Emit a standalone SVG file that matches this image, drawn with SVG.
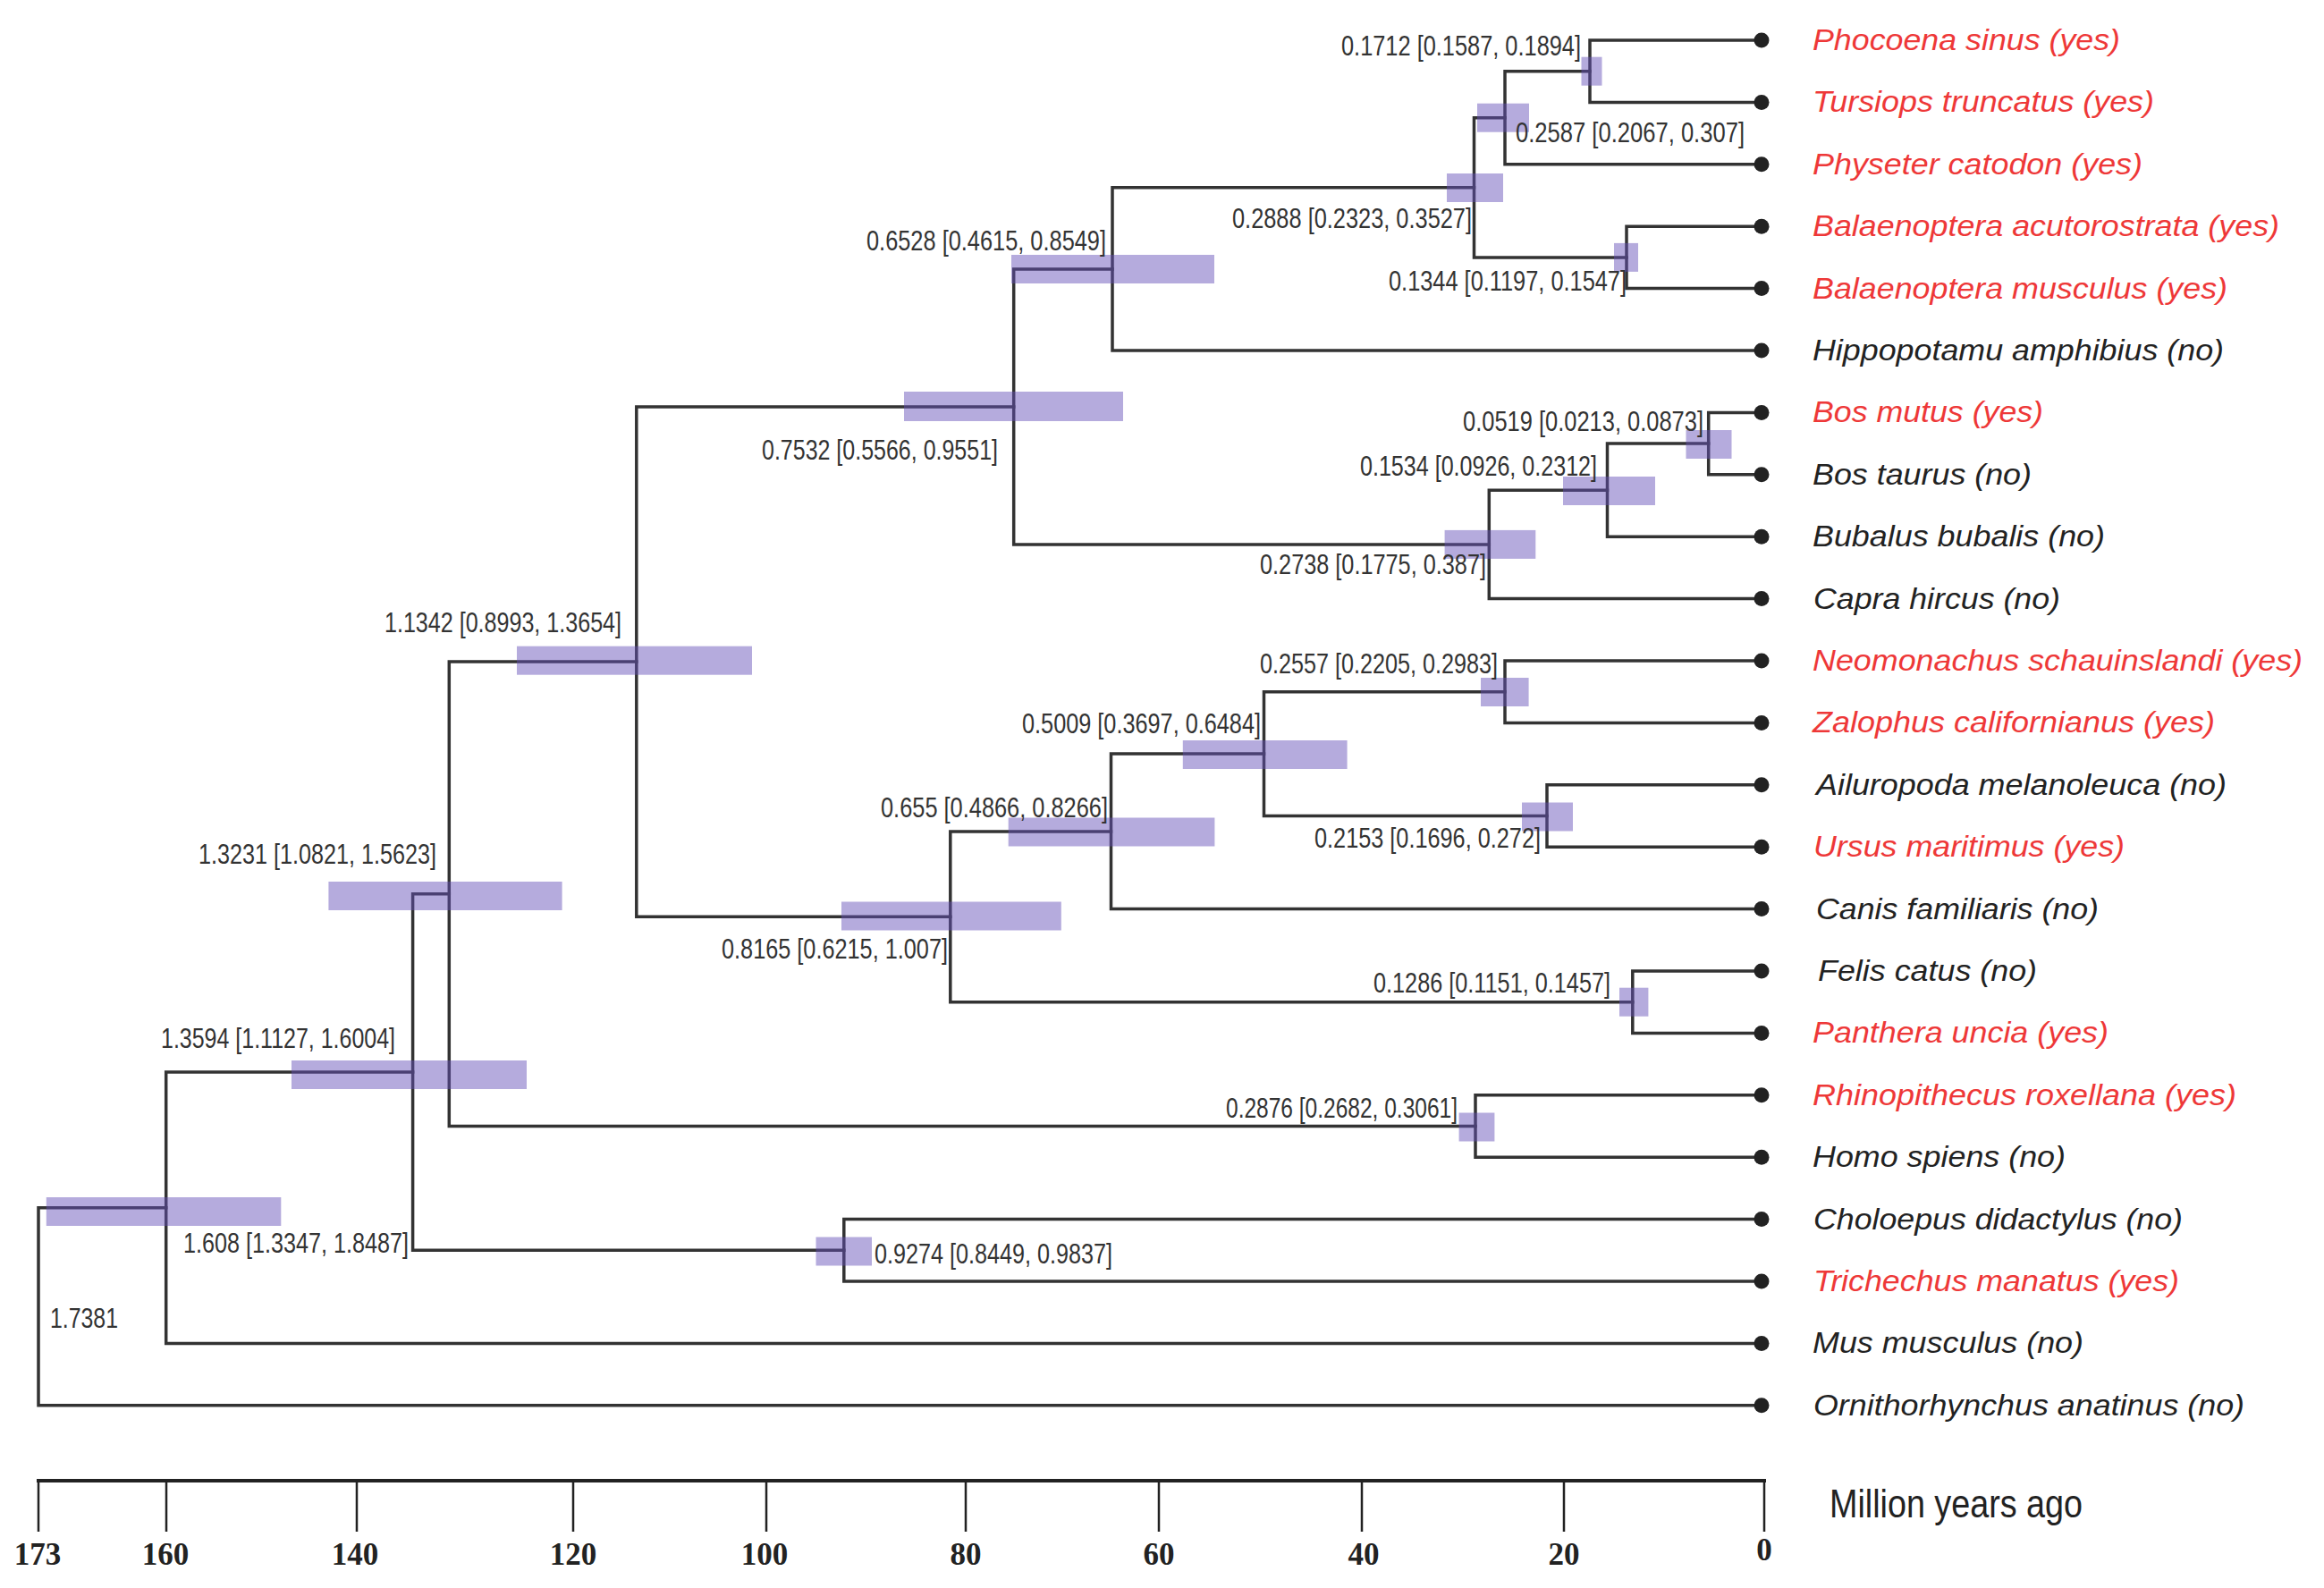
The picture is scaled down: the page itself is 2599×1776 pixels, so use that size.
<svg xmlns="http://www.w3.org/2000/svg" width="2599" height="1776" viewBox="0 0 2599 1776">
<style>
.br{fill:none;stroke:#333;stroke-width:3.5;stroke-linejoin:miter;stroke-linecap:square}
.hpd{fill:#6450b8;fill-opacity:0.48}
.nl{font-family:"Liberation Sans Narrow","Liberation Sans",Arial,sans-serif;font-size:31px;fill:#333}
.tx{font-family:"Liberation Sans",Arial,sans-serif;font-size:34px;font-style:italic}
.red{fill:#ee3838}
.blk{fill:#222}
.dot{fill:#222}
.ax{stroke:#222;fill:none}
.tl{font-family:"Liberation Serif","Times New Roman",serif;font-size:35px;font-weight:bold;fill:#222;text-anchor:middle}
.unit{font-family:"Liberation Sans Narrow","Liberation Sans",Arial,sans-serif;font-size:44px;fill:#222}
</style>
<rect width="2599" height="1776" fill="#fff"/>
<g id="connectors">
<path class="br" d="M1970 45 H1778 V114.4 H1970"/>
<path class="br" d="M1778 79.7 H1683 V183.8 H1970"/>
<path class="br" d="M1683 131.7 H1648.5 V287.9 H1819"/>
<path class="br" d="M1970 253.2 H1819 V322.6 H1970"/>
<path class="br" d="M1648.5 209.8 H1244 V392 H1970"/>
<path class="br" d="M1970 461.4 H1910.7 V530.8 H1970"/>
<path class="br" d="M1910.7 496.1 H1797.5 V600.2 H1970"/>
<path class="br" d="M1797.5 548.2 H1665.3 V669.6 H1970"/>
<path class="br" d="M1244 300.9 H1133.7 V608.9 H1665.3"/>
<path class="br" d="M1970 739 H1683 V808.4 H1970"/>
<path class="br" d="M1970 877.8 H1730 V947.2 H1970"/>
<path class="br" d="M1683 773.7 H1413.5 V912.5 H1730"/>
<path class="br" d="M1413.5 843.1 H1242.5 V1016.6 H1970"/>
<path class="br" d="M1970 1086 H1825.8 V1155.4 H1970"/>
<path class="br" d="M1242.5 929.9 H1062.8 V1120.7 H1825.8"/>
<path class="br" d="M1133.7 454.9 H711.8 V1025.3 H1062.8"/>
<path class="br" d="M1970 1224.8 H1650 V1294.2 H1970"/>
<path class="br" d="M711.8 740.1 H502.3 V1259.5 H1650"/>
<path class="br" d="M1970 1363.6 H943.8 V1433 H1970"/>
<path class="br" d="M502.3 999.8 H461.6 V1398.3 H943.8"/>
<path class="br" d="M461.6 1199 H185.7 V1502.4 H1970"/>
<path class="br" d="M185.7 1350.7 H43 V1571.8 H1970"/>
</g>
<g id="node-A"><rect class="hpd" x="1768.5" y="63.7" width="23" height="32"/><text class="nl" x="1500" y="62" textLength="268" lengthAdjust="spacingAndGlyphs">0.1712 [0.1587, 0.1894]</text></g>
<g id="node-B"><rect class="hpd" x="1652" y="115.7" width="58" height="32"/><text class="nl" x="1695" y="159" textLength="256" lengthAdjust="spacingAndGlyphs">0.2587 [0.2067, 0.307]</text></g>
<g id="node-C"><rect class="hpd" x="1618" y="194" width="63" height="32"/><text class="nl" x="1378" y="255" textLength="268" lengthAdjust="spacingAndGlyphs">0.2888 [0.2323, 0.3527]</text></g>
<g id="node-D"><rect class="hpd" x="1805" y="271.9" width="27" height="32"/><text class="nl" x="1553" y="325" textLength="266" lengthAdjust="spacingAndGlyphs">0.1344 [0.1197, 0.1547]</text></g>
<g id="node-E"><rect class="hpd" x="1131" y="285" width="227" height="32"/><text class="nl" x="969" y="280" textLength="268" lengthAdjust="spacingAndGlyphs">0.6528 [0.4615, 0.8549]</text></g>
<g id="node-F"><rect class="hpd" x="1011" y="438" width="245" height="33"/><text class="nl" x="852" y="514" textLength="264" lengthAdjust="spacingAndGlyphs">0.7532 [0.5566, 0.9551]</text></g>
<g id="node-G"><rect class="hpd" x="1885.5" y="481" width="51" height="32"/><text class="nl" x="1636" y="482" textLength="269" lengthAdjust="spacingAndGlyphs">0.0519 [0.0213, 0.0873]</text></g>
<g id="node-H"><rect class="hpd" x="1748" y="533" width="103" height="32"/><text class="nl" x="1521" y="532" textLength="265" lengthAdjust="spacingAndGlyphs">0.1534 [0.0926, 0.2312]</text></g>
<g id="node-I"><rect class="hpd" x="1615.6" y="592.9" width="101.7" height="32"/><text class="nl" x="1409" y="642" textLength="253" lengthAdjust="spacingAndGlyphs">0.2738 [0.1775, 0.387]</text></g>
<g id="node-J"><rect class="hpd" x="1656" y="758" width="53.6" height="32"/><text class="nl" x="1409" y="753" textLength="266" lengthAdjust="spacingAndGlyphs">0.2557 [0.2205, 0.2983]</text></g>
<g id="node-K"><rect class="hpd" x="1322.8" y="828" width="183.8" height="32"/><text class="nl" x="1143" y="820" textLength="267" lengthAdjust="spacingAndGlyphs">0.5009 [0.3697, 0.6484]</text></g>
<g id="node-L"><rect class="hpd" x="1702" y="897.5" width="57" height="32"/><text class="nl" x="1470" y="948" textLength="253" lengthAdjust="spacingAndGlyphs">0.2153 [0.1696, 0.272]</text></g>
<g id="node-M"><rect class="hpd" x="1127.7" y="914.5" width="230.7" height="32"/><text class="nl" x="985" y="914" textLength="254" lengthAdjust="spacingAndGlyphs">0.655 [0.4866, 0.8266]</text></g>
<g id="node-N"><rect class="hpd" x="941" y="1008.5" width="245.8" height="32"/><text class="nl" x="807" y="1072" textLength="253" lengthAdjust="spacingAndGlyphs">0.8165 [0.6215, 1.007]</text></g>
<g id="node-O"><rect class="hpd" x="1811" y="1104.7" width="32.4" height="32"/><text class="nl" x="1536" y="1110" textLength="265" lengthAdjust="spacingAndGlyphs">0.1286 [0.1151, 0.1457]</text></g>
<g id="node-P"><rect class="hpd" x="1631.6" y="1244.5" width="39.8" height="32"/><text class="nl" x="1371" y="1250" textLength="259" lengthAdjust="spacingAndGlyphs">0.2876 [0.2682, 0.3061]</text></g>
<g id="node-Q"><rect class="hpd" x="578" y="722.7" width="263" height="32"/><text class="nl" x="430" y="707" textLength="265" lengthAdjust="spacingAndGlyphs">1.1342 [0.8993, 1.3654]</text></g>
<g id="node-R"><rect class="hpd" x="367.4" y="986" width="261.2" height="32"/><text class="nl" x="222" y="966" textLength="266" lengthAdjust="spacingAndGlyphs">1.3231 [1.0821, 1.5623]</text></g>
<g id="node-S"><rect class="hpd" x="326" y="1186" width="263" height="32"/><text class="nl" x="180" y="1172" textLength="262" lengthAdjust="spacingAndGlyphs">1.3594 [1.1127, 1.6004]</text></g>
<g id="node-T"><rect class="hpd" x="912.5" y="1383.5" width="62.5" height="32"/><text class="nl" x="978" y="1413" textLength="266" lengthAdjust="spacingAndGlyphs">0.9274 [0.8449, 0.9837]</text></g>
<g id="node-U"><rect class="hpd" x="51.8" y="1339" width="262.5" height="32"/><text class="nl" x="205" y="1401" textLength="252" lengthAdjust="spacingAndGlyphs">1.608 [1.3347, 1.8487]</text></g>
<g id="node-root"><text class="nl" x="56" y="1485" textLength="76" lengthAdjust="spacingAndGlyphs">1.7381</text></g>
<g id="tip-0"><circle class="dot" cx="1970" cy="45" r="8.5"/><text class="tx red" x="2027" y="56" textLength="344" lengthAdjust="spacingAndGlyphs">Phocoena sinus (yes)</text></g>
<g id="tip-1"><circle class="dot" cx="1970" cy="114.4" r="8.5"/><text class="tx red" x="2027" y="125.4" textLength="382" lengthAdjust="spacingAndGlyphs">Tursiops truncatus (yes)</text></g>
<g id="tip-2"><circle class="dot" cx="1970" cy="183.8" r="8.5"/><text class="tx red" x="2027" y="194.8" textLength="369" lengthAdjust="spacingAndGlyphs">Physeter catodon (yes)</text></g>
<g id="tip-3"><circle class="dot" cx="1970" cy="253.2" r="8.5"/><text class="tx red" x="2027" y="264.2" textLength="522" lengthAdjust="spacingAndGlyphs">Balaenoptera acutorostrata (yes)</text></g>
<g id="tip-4"><circle class="dot" cx="1970" cy="322.6" r="8.5"/><text class="tx red" x="2027" y="333.6" textLength="464" lengthAdjust="spacingAndGlyphs">Balaenoptera musculus (yes)</text></g>
<g id="tip-5"><circle class="dot" cx="1970" cy="392" r="8.5"/><text class="tx blk" x="2027" y="403" textLength="460" lengthAdjust="spacingAndGlyphs">Hippopotamu amphibius (no)</text></g>
<g id="tip-6"><circle class="dot" cx="1970" cy="461.4" r="8.5"/><text class="tx red" x="2027" y="472.4" textLength="258" lengthAdjust="spacingAndGlyphs">Bos mutus (yes)</text></g>
<g id="tip-7"><circle class="dot" cx="1970" cy="530.8" r="8.5"/><text class="tx blk" x="2027" y="541.8" textLength="245" lengthAdjust="spacingAndGlyphs">Bos taurus (no)</text></g>
<g id="tip-8"><circle class="dot" cx="1970" cy="600.2" r="8.5"/><text class="tx blk" x="2027" y="611.2" textLength="327" lengthAdjust="spacingAndGlyphs">Bubalus bubalis (no)</text></g>
<g id="tip-9"><circle class="dot" cx="1970" cy="669.6" r="8.5"/><text class="tx blk" x="2028" y="680.6" textLength="276" lengthAdjust="spacingAndGlyphs">Capra hircus (no)</text></g>
<g id="tip-10"><circle class="dot" cx="1970" cy="739" r="8.5"/><text class="tx red" x="2027" y="750" textLength="548" lengthAdjust="spacingAndGlyphs">Neomonachus schauinslandi (yes)</text></g>
<g id="tip-11"><circle class="dot" cx="1970" cy="808.4" r="8.5"/><text class="tx red" x="2027" y="819.4" textLength="450" lengthAdjust="spacingAndGlyphs">Zalophus californianus (yes)</text></g>
<g id="tip-12"><circle class="dot" cx="1970" cy="877.8" r="8.5"/><text class="tx blk" x="2031" y="888.8" textLength="459" lengthAdjust="spacingAndGlyphs">Ailuropoda melanoleuca (no)</text></g>
<g id="tip-13"><circle class="dot" cx="1970" cy="947.2" r="8.5"/><text class="tx red" x="2028" y="958.2" textLength="348" lengthAdjust="spacingAndGlyphs">Ursus maritimus (yes)</text></g>
<g id="tip-14"><circle class="dot" cx="1970" cy="1016.6" r="8.5"/><text class="tx blk" x="2031" y="1027.6" textLength="316" lengthAdjust="spacingAndGlyphs">Canis familiaris (no)</text></g>
<g id="tip-15"><circle class="dot" cx="1970" cy="1086" r="8.5"/><text class="tx blk" x="2033" y="1097" textLength="245" lengthAdjust="spacingAndGlyphs">Felis catus (no)</text></g>
<g id="tip-16"><circle class="dot" cx="1970" cy="1155.4" r="8.5"/><text class="tx red" x="2027" y="1166.4" textLength="331" lengthAdjust="spacingAndGlyphs">Panthera uncia (yes)</text></g>
<g id="tip-17"><circle class="dot" cx="1970" cy="1224.8" r="8.5"/><text class="tx red" x="2027" y="1235.8" textLength="474" lengthAdjust="spacingAndGlyphs">Rhinopithecus roxellana (yes)</text></g>
<g id="tip-18"><circle class="dot" cx="1970" cy="1294.2" r="8.5"/><text class="tx blk" x="2027" y="1305.2" textLength="283" lengthAdjust="spacingAndGlyphs">Homo spiens (no)</text></g>
<g id="tip-19"><circle class="dot" cx="1970" cy="1363.6" r="8.5"/><text class="tx blk" x="2028" y="1374.6" textLength="413" lengthAdjust="spacingAndGlyphs">Choloepus didactylus (no)</text></g>
<g id="tip-20"><circle class="dot" cx="1970" cy="1433" r="8.5"/><text class="tx red" x="2028" y="1444" textLength="409" lengthAdjust="spacingAndGlyphs">Trichechus manatus (yes)</text></g>
<g id="tip-21"><circle class="dot" cx="1970" cy="1502.4" r="8.5"/><text class="tx blk" x="2027" y="1513.4" textLength="303" lengthAdjust="spacingAndGlyphs">Mus musculus (no)</text></g>
<g id="tip-22"><circle class="dot" cx="1970" cy="1571.8" r="8.5"/><text class="tx blk" x="2028" y="1582.8" textLength="482" lengthAdjust="spacingAndGlyphs">Ornithorhynchus anatinus (no)</text></g>
<g id="axis">
<path class="ax" stroke-width="4" d="M41 1656 H1975"/>
<path class="ax" stroke-width="2.5" d="M43 1656 V1713 M186 1656 V1713 M399 1656 V1713 M641 1656 V1713 M857 1656 V1713 M1080 1656 V1713 M1296 1656 V1713 M1523 1656 V1713 M1749 1656 V1713 M1973 1656 V1713"/>
<text class="tl" x="42" y="1750">173</text>
<text class="tl" x="185" y="1750">160</text>
<text class="tl" x="397" y="1750">140</text>
<text class="tl" x="641" y="1750">120</text>
<text class="tl" x="855" y="1750">100</text>
<text class="tl" x="1080" y="1750">80</text>
<text class="tl" x="1296" y="1750">60</text>
<text class="tl" x="1525" y="1750">40</text>
<text class="tl" x="1749" y="1750">20</text>
<text class="tl" x="1973" y="1745">0</text>
<text class="unit" x="2046" y="1697" textLength="283" lengthAdjust="spacingAndGlyphs">Million years ago</text>
</g>
</svg>
